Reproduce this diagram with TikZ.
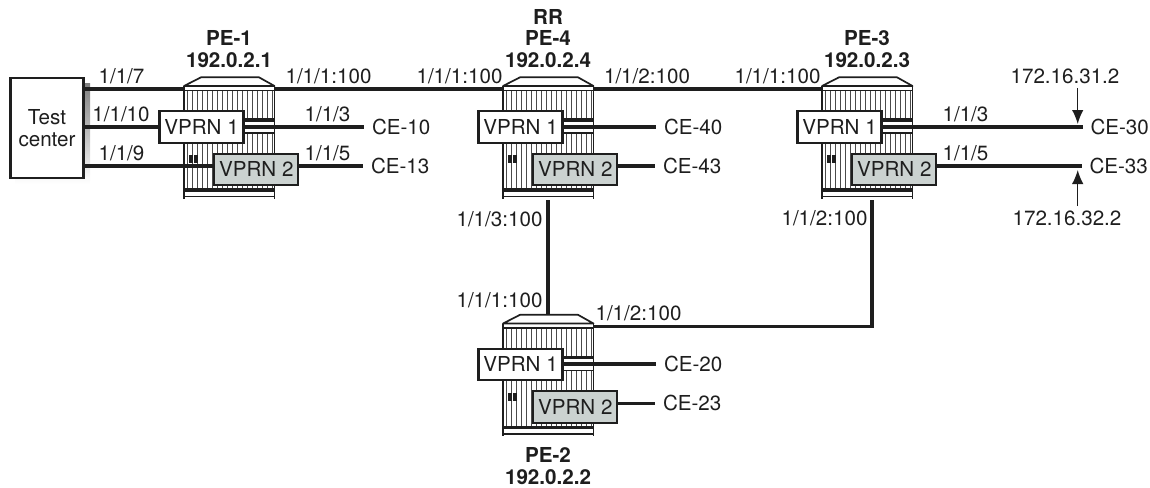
\documentclass[tikz,border=0pt]{standalone}
\usepackage{fontspec}
\setmainfont{TeX Gyre Heros}
\usetikzlibrary{arrows.meta}
\definecolor{ink}{HTML}{1E1E1E}
\definecolor{vgray}{HTML}{CBD2D0}
\definecolor{shade}{HTML}{DDE1DF}
\tikzset{
  x=1pt,y=-1pt,
  every node/.style={font=\fontsize{20.6}{22}\selectfont,text=ink,inner sep=0pt,outer sep=0pt},
  lbl/.style={text height=14.7pt,text depth=0pt,anchor=center},
  ttl/.style={lbl,font=\fontsize{20.6}{22}\selectfont\bfseries},
  cename/.style={lbl,anchor=west},
  vone/.style={draw=ink,line width=2.1pt,fill=white,minimum width=84pt,minimum height=31.5pt,text height=14.7pt,text depth=0pt},
  vtwo/.style={vone,fill=vgray},
  link/.style={draw=ink,line width=3.8pt},
  clink/.style={link,shorten >=8pt},
  frame/.style={draw=ink,line width=1.7pt},
  heavy/.style={draw=ink,line width=3.4pt},
  hatch/.style={draw=ink!80,line width=0.7pt},
  pointer/.style={draw=ink,line width=1.3pt,-{Latex[length=14pt,width=11.5pt]}},
}
% name, x of chassis left edge, vertical offset
\newcommand{\chassis}[3]{%
  \begin{scope}[shift={(#2,#3)}]
    \foreach \i in {3,8,...,88}{
      \draw[hatch] (\i,90) -- (\i,120);
      \draw[hatch] (\i,133) -- (\i,190);
    }
    \draw[frame,fill=white,line join=round] (0,86) -- (17,77.3) -- (75,77.3) -- (90.5,86) -- cycle;
    \draw[frame] (0,86) -- (0,198.5);
    \draw[frame] (90.5,86) -- (90.5,198.5);
    \draw[frame] (0,90.5) -- (90.5,90.5);
    \draw[heavy] (50,120) -- (90.5,120);
    \draw[frame] (50,133) -- (90.5,133);
    \draw[heavy] (0,190) -- (90.5,190);
    \draw[frame] (0,196.5) -- (90.5,196.5);
    \fill[ink] (5,155) rectangle (9,163);
    \fill[ink] (10,155) rectangle (14,163);
    \node (#1) at (45.25,137.5) [minimum width=90.5pt,minimum height=122pt] {};
    \coordinate (#1w) at (0,89);
    \coordinate (#1e) at (90.5,89);
    \coordinate (#1t) at (45.25,77.3);
    \coordinate (#1b) at (45.25,200);
    \coordinate (#1d) at (49.7,200);
  \end{scope}}
% name, x, y offset
\newcommand{\vprns}[3]{%
  \begin{scope}[shift={(#2,#3)}]
    \node[vone] (#1a) at (17.5,127) {VPRN 1};
    \node[vtwo] (#1b2) at (72.3,169.3) {VPRN 2};
  \end{scope}}
\begin{document}
\begin{tikzpicture}
\useasboundingbox (0,0) rectangle (1150,487);
% test centre
\fill[shade] (15,83) rectangle (90,183.5);
\node[draw=ink,line width=2.1pt,fill=white,minimum width=73pt,minimum height=100pt,align=center] (tc) at (47,128) {Test\\center};
% chassis
\chassis{peone}{184}{0}
\chassis{pefour}{503}{0}
\chassis{pethree}{822}{0}
\chassis{petwo}{503}{237.5}
% customer edge names
\node[cename] (ce10) at (372,126.7) {CE-10};
\node[cename] (ce13) at (371,166) {CE-13};
\node[cename] (ce40) at (664,126.7) {CE-40};
\node[cename] (ce43) at (663,166) {CE-43};
\node[cename] (ce30) at (1090.5,126.7) {CE-30};
\node[cename] (ce33) at (1089.5,166) {CE-33};
\node[cename] (ce20) at (664,364.2) {CE-20};
\node[cename] (ce23) at (663,403.5) {CE-23};
% links
\draw[link] (tc.east |- peonew) -- (peonew);
\draw[link] (peonee) -- (pefourw);
\draw[link] (pefoure) -- (pethreew);
\draw[link] (pefourb) -- (petwot);
\draw[link] (petwoe) -| (pethreed);
% service boxes
\vprns{peone}{184}{0}
\vprns{pefour}{503}{0}
\vprns{pethree}{822}{0}
\vprns{petwo}{503}{237.5}
\draw[link] (tc.east |- peonea.west) -- (peonea.west);
\draw[link] (tc.east |- ce13.west) -- (peoneb2.west |- ce13.west);
\draw[clink] (peonea.east |- ce10.west) -- (ce10.west);
\draw[clink] (peoneb2.east |- ce13.west) -- (ce13.west);
\draw[clink] (pefoura.east |- ce40.west) -- (ce40.west);
\draw[clink] (pefourb2.east |- ce43.west) -- (ce43.west);
\draw[clink] (pethreea.east |- ce30.west) -- (ce30.west);
\draw[clink] (pethreeb2.east |- ce33.west) -- (ce33.west);
\draw[clink] (petwoa.east |- ce20.west) -- (ce20.west);
\draw[clink] (petwob2.east |- ce23.west) -- (ce23.west);
% titles
\node[ttl] at (229,38) {PE-1};
\node[ttl] at (229,60) {192.0.2.1};
\node[ttl] at (548,17) {RR};
\node[ttl] at (548,38) {PE-4};
\node[ttl] at (548,60) {192.0.2.4};
\node[ttl] at (867,38) {PE-3};
\node[ttl] at (867,60) {192.0.2.3};
\node[ttl] at (548,455) {PE-2};
\node[ttl] at (548,477) {192.0.2.2};
% port labels
\node[lbl] at (121.5,76) {1/1/7};
\node[lbl] at (121,114) {1/1/10};
\node[lbl] at (121.5,153) {1/1/9};
\node[lbl] at (328.5,76) {1/1/1:100};
\node[lbl] at (327.5,114) {1/1/3};
\node[lbl] at (327.5,153) {1/1/5};
\node[lbl] at (459.5,76) {1/1/1:100};
\node[lbl] at (647,76) {1/1/2:100};
\node[lbl] at (777.5,76) {1/1/1:100};
\node[lbl] at (965.5,114) {1/1/3};
\node[lbl] at (965.5,153) {1/1/5};
\node[lbl] at (499.5,219) {1/1/3:100};
\node[lbl] at (824.5,218) {1/1/2:100};
\node[lbl] at (499.5,300) {1/1/1:100};
\node[lbl] at (638.5,313) {1/1/2:100};
% addresses
\node[lbl] (addrone) at (1065,76) {172.16.31.2};
\node[lbl] (addrtwo) at (1067,218) {172.16.32.2};
\coordinate (tipone) at (1077.7,124);
\coordinate (tiptwo) at (1077.7,170);
\coordinate (tailone) at (1077.7,88);
\coordinate (tailtwo) at (1077.7,206);
\draw[pointer] (tailone) -- (tipone);
\draw[pointer] (tailtwo) -- (tiptwo);
\end{tikzpicture}
\end{document}
